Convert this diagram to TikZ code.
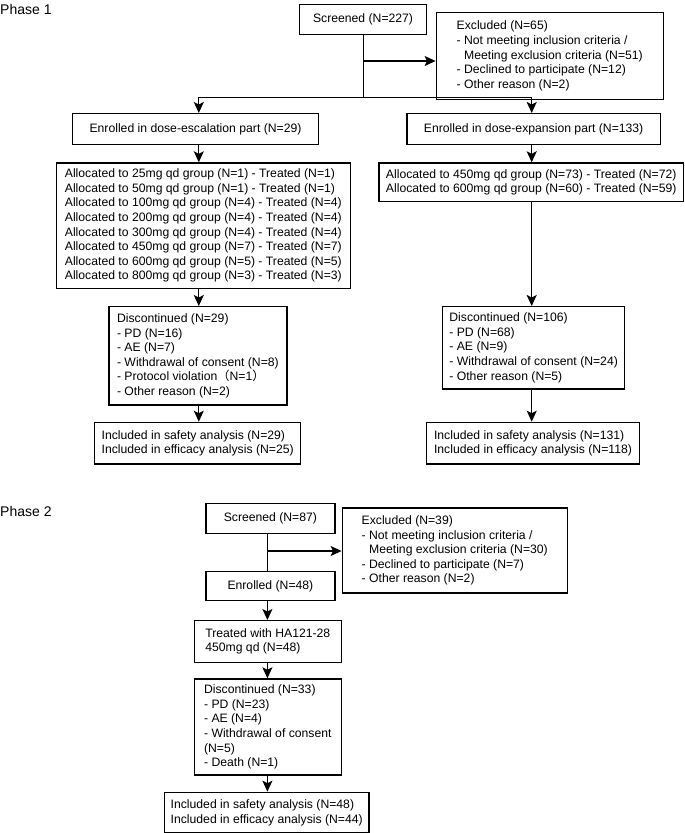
\documentclass[tikz,border=0pt]{standalone}
\usepackage{fontspec}
\setmainfont{Liberation Sans}
\newfontfamily\cjkfont{Noto Sans CJK SC}
\usetikzlibrary{arrows.meta}
\tikzset{
  box/.style={draw, line width=1.3pt, inner sep=0pt, align=left,
    font=\fontsize{12.2}{14.6}\selectfont, anchor=north west},
  cbox/.style={box, align=center},
  conn/.style={line width=1.3pt},
  arr/.style={conn, -{Stealth[length=11pt,width=10pt,inset=2.5pt]}},
  phase/.style={inner sep=0pt, anchor=north west, font=\fontsize{14}{16}\selectfont}
}
\begin{document}
\begin{tikzpicture}[x=1pt,y=-1pt]
\useasboundingbox (0,0) rectangle (685,833);
% Phase labels
\node[phase] (ph1) at (0,4.5) {Phase 1};
\node[phase] (ph2) at (0,506.5) {Phase 2};
% Phase 1 boxes
\node[cbox, minimum width=127.2pt, minimum height=30pt] (scr1) at (298.8,4) {Screened (N=227)};
\node[box, minimum width=227pt, minimum height=87.3pt] (exc1) at (435.6,11.7)
  {Excluded (N=65)\\- Not meeting inclusion criteria /\\\phantom{- }Meeting exclusion criteria (N=51)\\- Declined to participate (N=12)\\- Other reason (N=2)};
\node[cbox, minimum width=245.5pt, minimum height=30.5pt] (esc) at (72.1,113) {Enrolled in dose-escalation part (N=29)};
\node[cbox, minimum width=253.4pt, minimum height=30.5pt] (exp) at (406.3,113) {Enrolled in dose-expansion part (N=133)};
\node[box, minimum width=293.6pt, minimum height=125.4pt] (allocL) at (55.9,162.3)
  {Allocated to 25mg qd group (N=1) - Treated (N=1)\\
   Allocated to 50mg qd group (N=1) - Treated (N=1)\\
   Allocated to 100mg qd group (N=4) - Treated (N=4)\\
   Allocated to 200mg qd group (N=4) - Treated (N=4)\\
   Allocated to 300mg qd group (N=4) - Treated (N=4)\\
   Allocated to 450mg qd group (N=7) - Treated (N=7)\\
   Allocated to 600mg qd group (N=5) - Treated (N=5)\\
   Allocated to 800mg qd group (N=3) - Treated (N=3)};
\node[box, minimum width=304.5pt, minimum height=38.4pt] (allocR) at (378.3,162.3)
  {Allocated to 450mg qd group (N=73) - Treated (N=72)\\
   Allocated to 600mg qd group (N=60) - Treated (N=59)};
\node[box, minimum width=177.9pt, minimum height=98.3pt] (discL) at (108.3,306)
  {Discontinued (N=29)\\- PD (N=16)\\- AE (N=7)\\- Withdrawal of consent (N=8)\\- Protocol violation{\cjkfont （}N=1{\cjkfont ）}\\- Other reason (N=2)};
\node[box, minimum width=181.8pt, minimum height=82.3pt] (discR) at (442.1,306)
  {Discontinued (N=106)\\- PD (N=68)\\- AE (N=9)\\- Withdrawal of consent (N=24)\\- Other reason (N=5)};
\node[box, minimum width=206.2pt, minimum height=41.6pt] (safeL) at (93.9,421.7)
  {Included in safety analysis (N=29)\\Included in efficacy analysis (N=25)};
\node[box, minimum width=212.7pt, minimum height=41.6pt] (safeR) at (426,421.7)
  {Included in safety analysis (N=131)\\Included in efficacy analysis (N=118)};
% Phase 1 connectors
\coordinate (colL) at (198.8,0);
\coordinate (colR) at (531.7,0);
\coordinate (split) at (363.5,97.7);
\coordinate (excY) at (0,61);
\draw[conn] (scr1.south -| split) -- (split);
\draw[arr] (split |- excY) -- (exc1.west |- excY);
\draw[arr] (split) -| (esc.north -| colL);
\draw[arr] (split) -| (exp.north -| colR);
\draw[arr] (esc.south -| colL) -- (allocL.north -| colL);
\draw[arr] (allocL.south -| colL) -- (discL.north -| colL);
\draw[arr] (discL.south -| colL) -- (safeL.north -| colL);
\draw[arr] (exp.south -| colR) -- (allocR.north -| colR);
\draw[arr] (allocR.south -| colR) -- (discR.north -| colR);
\draw[arr] (discR.south -| colR) -- (safeR.north -| colR);
% Phase 2 boxes
\node[cbox, minimum width=128.9pt, minimum height=30pt] (scr2) at (205.3,502.7) {Screened (N=87)};
\node[box, minimum width=225pt, minimum height=85pt] (exc2) at (341.6,507.3)
  {Excluded (N=39)\\- Not meeting inclusion criteria /\\\phantom{- }Meeting exclusion criteria (N=30)\\- Declined to participate (N=7)\\- Other reason (N=2)};
\node[cbox, minimum width=128.9pt, minimum height=29pt] (enr2) at (205.3,571) {Enrolled (N=48)};
\node[box, minimum width=147.3pt, minimum height=41.7pt] (trt2) at (193.5,620)
  {Treated with HA121-28\\450mg qd (N=48)};
\node[box, minimum width=147.3pt, minimum height=96pt] (disc2) at (193.5,678.3)
  {Discontinued (N=33)\\- PD (N=23)\\- AE (N=4)\\- Withdrawal of consent\\(N=5)\\- Death (N=1)};
\node[box, minimum width=204.5pt, minimum height=40.6pt] (safe2) at (163.8,791.7)
  {Included in safety analysis (N=48)\\Included in efficacy analysis (N=44)};
% Phase 2 connectors
\coordinate (colP) at (267.4,0);
\coordinate (exc2Y) at (0,551);
\draw[conn] (scr2.south -| colP) -- (enr2.north -| colP);
\draw[arr] (colP |- exc2Y) -- (exc2.west |- exc2Y);
\draw[arr] (enr2.south -| colP) -- (trt2.north -| colP);
\draw[arr] (trt2.south -| colP) -- (disc2.north -| colP);
\draw[arr] (disc2.south -| colP) -- (safe2.north -| colP);
\end{tikzpicture}
\end{document}
